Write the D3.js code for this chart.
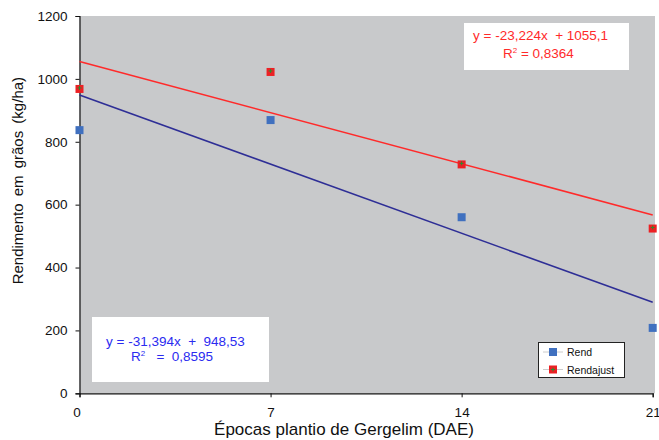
<!DOCTYPE html>
<html>
<head>
<meta charset="utf-8">
<script src="https://cdn.jsdelivr.net/npm/d3@7"></script>
<style>
  body { margin: 0; background: #fff; }
  svg { display: block; font-family: "Liberation Sans", Arial, sans-serif; }
</style>
</head>
<body>
<div id="chart"></div>
<script>
// data
const epocas = [0, 7, 14, 21];
const rend = [837, 869, 560, 208];
const rendAjust = [968, 1022, 728, 524];
const yTicks = [0, 200, 400, 600, 800, 1000, 1200];
const xTicks = [0, 7, 14, 21];
// trend lines as printed on the chart
const fitRend = { slope: -31.394, intercept: 948.53 };
const fitAjust = { slope: -23.224, intercept: 1055.1 };

const width = 659, height = 440;
const margin = { left: 79.5, right: 4, top: 16, bottom: 47 };

const svg = d3.select("#chart").append("svg")
    .attr("width", width)
    .attr("height", height);

const x = d3.scaleLinear().domain([0, 21]).range([margin.left, 652.7]);
const y = d3.scaleLinear().domain([0, 1200]).range([393.3, margin.top]);

// plot area
svg.append("rect")
    .attr("x", margin.left)
    .attr("y", y(1200))
    .attr("width", 655 - margin.left)
    .attr("height", y(0) - y(1200))
    .attr("fill", "#c8c9cb");

// axes
const axisY = d3.axisLeft(y).tickValues(yTicks).tickSize(4).tickPadding(8).tickFormat(d3.format("d"));
const axisX = d3.axisBottom(x).tickValues(xTicks).tickSize(4).tickPadding(10);

const gy = svg.append("g")
    .attr("transform", `translate(${margin.left},0)`)
    .call(axisY);
const gx = svg.append("g")
    .attr("transform", `translate(0,${y(0)})`)
    .call(axisX);

[gx, gy].forEach(g => {
    g.select(".domain").attr("stroke", "#111").attr("stroke-width", 1.2);
    g.selectAll(".tick line").attr("stroke", "#111");
    g.selectAll(".tick text")
        .attr("font-family", "Liberation Sans, Arial, sans-serif")
        .attr("font-size", 13.5)
        .attr("fill", "#111");
});
gx.selectAll(".tick text").attr("dx", d => d === 0 ? -3 : 0);

// trend lines
const lines = [
    { fit: fitAjust, color: "#ff2a2a" },
    { fit: fitRend, color: "#2e2e96" }
];
svg.append("g").selectAll("line")
    .data(lines)
    .join("line")
    .attr("x1", x(0))
    .attr("x2", x(21))
    .attr("y1", d => y(d.fit.intercept))
    .attr("y2", d => y(d.fit.intercept + d.fit.slope * 21))
    .attr("stroke", d => d.color)
    .attr("stroke-width", 1.6);

// markers
const ms = 8;
function drawMarkers(values, fill, plus) {
    const g = svg.append("g");
    g.selectAll("rect")
        .data(values)
        .join("rect")
        .attr("x", (d, i) => x(epocas[i]) - ms / 2)
        .attr("y", d => y(d) - ms / 2)
        .attr("width", ms)
        .attr("height", ms)
        .attr("fill", fill);
    if (plus) {
        g.selectAll("path")
            .data(values)
            .join("path")
            .attr("d", (d, i) => {
                const cx = x(epocas[i]), cy = y(d) - 1;
                return `M${cx - 2},${cy}H${cx + 2}M${cx},${cy - 2}V${cy + 2}`;
            })
            .attr("stroke", "#2f8a2f")
            .attr("stroke-width", 1);
    }
}
drawMarkers(rend, "#4070bf", false);
drawMarkers(rendAjust, "#ec2024", true);

// equation boxes
function eqBox(bx, by, bw, bh, color, lines) {
    svg.append("rect")
        .attr("x", bx).attr("y", by)
        .attr("width", bw).attr("height", bh)
        .attr("fill", "#fff");
    svg.append("g").selectAll("text")
        .data(lines)
        .join("text")
        .attr("x", d => d.x)
        .attr("y", d => d.y)
        .attr("font-size", 13.5)
        .attr("fill", color)
        .attr("xml:space", "preserve")
        .html(d => d.t);
}
eqBox(464, 23, 165, 47, "#ff2a2a", [
    { x: 473, y: 40, t: "y = -23,224x  + 1055,1" },
    { x: 503, y: 58, t: "R<tspan font-size='8' dy='-5'>2</tspan><tspan dy='5'> = 0,8364</tspan>" }
]);
eqBox(92, 317, 177, 65, "#2b2bf0", [
    { x: 106, y: 346, t: "y = -31,394x  +  948,53" },
    { x: 131, y: 361, t: "R<tspan font-size='8' dy='-5'>2</tspan><tspan dy='5'>   =  0,8595</tspan>" }
]);

// legend
const legend = svg.append("g");
legend.append("rect")
    .attr("x", 538.5).attr("y", 342.5)
    .attr("width", 86).attr("height", 35)
    .attr("fill", "#fff")
    .attr("stroke", "#222");
const legItems = [
    { name: "Rend", fill: "#4070bf", plus: false },
    { name: "Rendajust", fill: "#ec2024", plus: true }
];
legItems.forEach((it, i) => {
    const cy = 352 + i * 17.5;
    legend.append("line")
        .attr("x1", 543).attr("x2", 563)
        .attr("y1", cy).attr("y2", cy)
        .attr("stroke", "#ccc");
    legend.append("rect")
        .attr("x", 549).attr("y", cy - 4)
        .attr("width", 8).attr("height", 8)
        .attr("fill", it.fill);
    if (it.plus) {
        legend.append("path")
            .attr("d", `M551,${cy}H555M553,${cy - 2}V${cy + 2}`)
            .attr("stroke", "#2f8a2f");
    }
    legend.append("text")
        .attr("x", 567).attr("y", cy + 4)
        .attr("font-size", 10.5)
        .attr("fill", "#111")
        .text(it.name);
});

// axis titles
svg.append("text")
    .attr("x", 344)
    .attr("y", 435)
    .attr("text-anchor", "middle")
    .attr("font-size", 17)
    .attr("fill", "#111")
    .text("Épocas plantio de Gergelim (DAE)");

svg.append("text")
    .attr("transform", `translate(23,${(y(0) + y(1200)) / 2 - 24}) rotate(-90)`)
    .attr("text-anchor", "middle")
    .attr("font-size", 15)
    .attr("word-spacing", 3)
    .attr("fill", "#111")
    .text("Rendimento em grãos (kg/ha)");
</script>
</body>
</html>
